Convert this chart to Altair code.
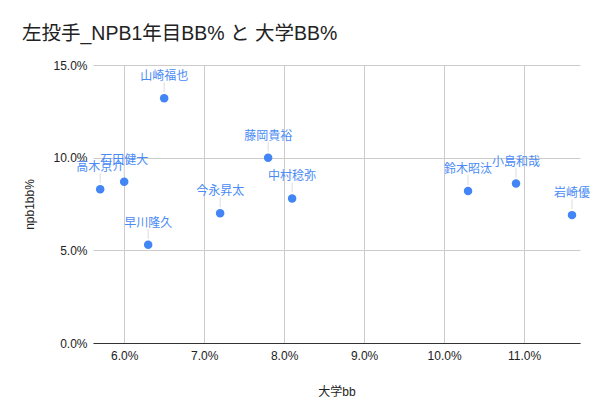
import altair as alt
import pandas as pd

names = ["山崎福也", "藤岡貴裕", "高木京介", "石田健大", "早川隆久", "今永昇太",
         "中村稔弥", "鈴木昭汰", "小島和哉", "岩崎優"]
college_bb = [0.065, 0.078, 0.057, 0.060, 0.063, 0.072, 0.081, 0.103, 0.109, 0.116]
npb1_bb = [0.132, 0.100, 0.083, 0.087, 0.053, 0.070, 0.078, 0.082, 0.086, 0.069]

x_ticks = [0.06, 0.07, 0.08, 0.09, 0.10, 0.11]
y_ticks = [0.0, 0.05, 0.10, 0.15]

df = pd.DataFrame({"name": names, "college": college_bb, "npb1": npb1_bb})

FONT = "Liberation Sans, Noto Sans CJK JP"
BLUE = "#4285F4"

x = alt.X("college:Q", title="大学bb",
          scale=alt.Scale(domain=[0.0561, 0.1170], nice=False, zero=False),
          axis=alt.Axis(values=x_ticks, format=".1%", grid=True, gridColor="#cccccc",
                        ticks=False, domain=True, domainColor="#333333",
                        labelPadding=7, labelFontSize=12, labelColor="#222222",
                        titleFontSize=12, titleFontWeight="normal", titlePadding=25,
                        titleColor="#222222"))
y = alt.Y("npb1:Q", title="npb1bb%",
          scale=alt.Scale(domain=[0, 0.15], nice=False),
          axis=alt.Axis(values=y_ticks, format=".1%", grid=True, gridColor="#cccccc",
                        ticks=False, domain=False, labelPadding=6, labelFontSize=12,
                        labelColor="#222222", titleFontSize=12, titleFontWeight="normal",
                        titlePadding=16, titleColor="#222222"))

base = alt.Chart(df).encode(x=x, y=y)

leaders = base.mark_rule(color="#dddddd", strokeWidth=1, yOffset=-6, y2Offset=-16).encode(
    y2=alt.Y2("npb1:Q"))
points = base.mark_circle(size=72, color=BLUE, opacity=1)
labels = base.mark_text(dy=-22, fontSize=12, color="#4a8bf5", font="Noto Sans CJK JP",
                        baseline="middle").encode(text="name:N")

chart = alt.layer(leaders, points, labels).properties(
    width=487, height=278,
    title=alt.TitleParams("左投手_NPB1年目BB% と 大学BB%", anchor="start", frame="group",
                          fontSize=19.5, fontWeight="normal", color="#222222",
                          font=FONT, dx=-71, offset=15),
    autosize=alt.AutoSizeParams(type="none"),
    padding={"left": 85, "top": 57, "right": 10, "bottom": 56},
).configure(font=FONT).configure_view(stroke=None)

chart.save("out.html", embed_options={"renderer": "svg", "actions": False})
